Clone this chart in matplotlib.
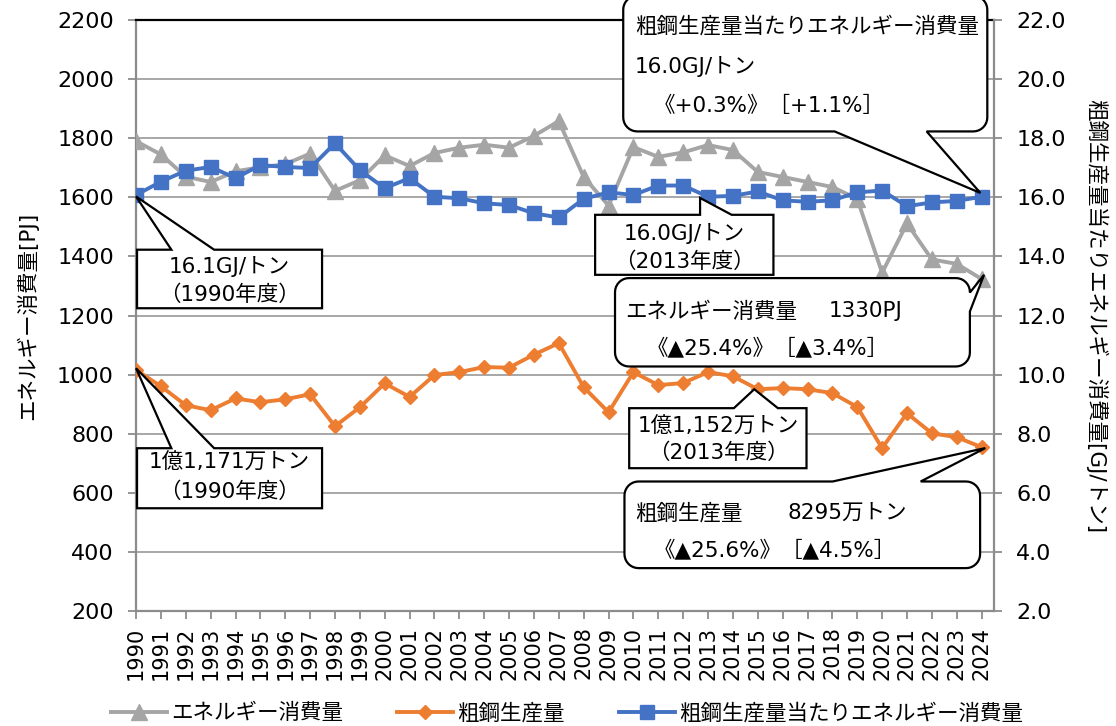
import matplotlib
matplotlib.use('Agg')
import numpy as np
import matplotlib.pyplot as plt
from matplotlib.patches import Polygon
from matplotlib.ticker import FormatStrFormatter

plt.rcParams['font.family'] = ['DejaVu Sans', 'Noto Sans CJK JP']

# データ
years = list(range(1990, 2025))
energy = [1790, 1745, 1670, 1652, 1688, 1702, 1712, 1748, 1622, 1658,
          1742, 1706, 1750, 1768, 1778, 1768, 1808, 1858, 1669, 1572,
          1770, 1737, 1752, 1777, 1760, 1686, 1669, 1652, 1635, 1595,
          1345, 1512, 1390, 1375, 1324]
steel = [1016, 961, 897, 880, 920, 907, 917, 934, 826, 890,
         971, 925, 999, 1009, 1026, 1024, 1068, 1107, 958, 873,
         1009, 965, 972, 1009, 995, 951, 955, 951, 938, 891,
         752, 870, 802, 789, 755]
intensity = [16.08, 16.53, 16.90, 17.03, 16.65, 17.09, 17.03, 16.99, 17.83, 16.92,
             16.31, 16.65, 16.02, 15.97, 15.80, 15.74, 15.46, 15.32, 15.95, 16.17,
             16.08, 16.40, 16.40, 16.02, 16.05, 16.20, 15.90, 15.85, 15.90, 16.17,
             16.23, 15.70, 15.83, 15.88, 16.02]
series_names = ['エネルギー消費量', '粗鋼生産量', '粗鋼生産量当たりエネルギー消費量']

GRAY = '#A5A5A5'
ORANGE = '#ED7D31'
BLUE = '#4472C4'
AXC = '#8C8C8C'
FS = 15.5

fig = plt.figure(figsize=(11.16, 7.26), dpi=100)
pos = [0.1219, 0.158, 0.7688, 0.8145]
ax = fig.add_axes(pos)
ax2 = ax.twinx()

l1, = ax.plot(years, energy, color=GRAY, lw=2.8, marker='^', ms=12, zorder=3, label=series_names[0])
l2, = ax.plot(years, steel, color=ORANGE, lw=2.8, marker='D', ms=7, zorder=4, label=series_names[1])
l3, = ax2.plot(years, intensity, color=BLUE, lw=2.8, marker='s', ms=9.5, zorder=3, label=series_names[2])

ax.set_xlim(1990, 2024.5)
ax.set_ylim(200, 2200)
ax2.set_ylim(2, 22)
ax.set_yticks(range(200, 2201, 200))
ax2.set_yticks(np.arange(2, 22.1, 2))
ax2.yaxis.set_major_formatter(FormatStrFormatter('%.1f'))
ax.set_xticks(years)
ax.set_xticklabels([str(y) for y in years], rotation=90, fontsize=15)

ax.grid(axis='y', color='#A0A0A0', lw=1.3)
ax.set_axisbelow(True)

ax.tick_params(axis='y', direction='out', length=6, width=1.3, color=AXC, labelsize=16, pad=10)
ax.tick_params(axis='x', direction='out', length=6, width=1.3, color=AXC, pad=5)
ax2.tick_params(axis='y', direction='out', length=6, width=1.3, color=AXC, labelsize=16, pad=10)

for s in ['left', 'bottom']:
    ax.spines[s].set_color(AXC)
    ax.spines[s].set_linewidth(1.6)
ax.spines['right'].set_visible(False)
ax.spines['top'].set_color('black')
ax.spines['top'].set_linewidth(1.6)
for s in ['left', 'bottom', 'top']:
    ax2.spines[s].set_visible(False)
ax2.spines['right'].set_color(AXC)
ax2.spines['right'].set_linewidth(1.6)

# 吹き出し用(ピクセル→データ単位)
ppx = pos[2] * 1116 / 34.5
ppy = pos[3] * 726 / 2000


def callout(x0, x1, y0, y1, side, ptr, r_px=0):
    rx = r_px / ppx
    ry = r_px / ppy
    pts = []

    def corner(cx, cy, a0, a1):
        for t in np.linspace(np.radians(a0), np.radians(a1), 9):
            pts.append((cx + rx * np.cos(t), cy + ry * np.sin(t)))

    corner(x0 + rx, y0 + ry, 180, 270)
    if side == 'bottom':
        pts.extend(ptr)
    corner(x1 - rx, y0 + ry, 270, 360)
    if side == 'right':
        pts.extend(ptr)
    corner(x1 - rx, y1 - ry, 0, 90)
    if side == 'top':
        pts.extend(ptr)
    corner(x0 + rx, y1 - ry, 90, 180)
    ax2.add_patch(Polygon(pts, closed=True, fc='white', ec='black', lw=1.6,
                          transform=ax.transData, zorder=10, clip_on=False))


def txt(x, y, s, ha='left'):
    ax2.text(x, y, s, transform=ax.transData, fontsize=FS, ha=ha, va='center',
             zorder=11, clip_on=False)


# 右上
callout(2009.59, 2024.23, 1823, 2282, 'bottom',
        [(2018.09, 1823), (2023.95, 1615), (2021.79, 1823)], 14)
txt(2010.06, 2178, '粗鋼生産量当たりエネルギー消費量')
txt(2010.06, 2043, '16.0GJ/トン')
txt(2010.8, 1908, '《+0.3%》［+1.1%］')

# 2013年度 原単位
callout(2008.46, 2015.63, 1338, 1541, 'top',
        [(2013.95, 1541), (2012.68, 1598), (2012.68, 1541)])
txt(2012.05, 1479, '16.0GJ/トン', 'center')
txt(2012.05, 1383, '（2013年度）', 'center')

# エネルギー消費量
callout(2009.26, 2023.53, 1028, 1327, 'right',
        [(2023.53, 1214), (2024.1, 1338), (2023.53, 1278)], 14)
txt(2009.66, 1214, 'エネルギー消費量')
txt(2017.84, 1214, '1330PJ')
txt(2010.55, 1090, '《▲25.4%》［▲3.4%］')

# 2013年度 粗鋼
callout(2009.83, 2016.96, 684, 887, 'top',
        [(2015.81, 887), (2014.86, 951), (2014.04, 887)])
txt(2013.4, 825, '1億1,152万トン', 'center')
txt(2013.4, 735, '（2013年度）', 'center')

# 粗鋼生産量
callout(2009.64, 2023.94, 346, 639, 'top',
        [(2021.55, 639), (2024.15, 752), (2018.01, 639)], 14)
txt(2010.06, 532, '粗鋼生産量')
txt(2016.2, 532, '8295万トン')
txt(2010.83, 407, '《▲25.6%》［▲4.5%］')

# 1990年度
callout(1990.04, 1997.48, 1225, 1423, 'top',
        [(1993.14, 1423), (1990, 1603), (1991.42, 1423)])
txt(1993.76, 1366, '16.1GJ/トン', 'center')
txt(1993.76, 1270, '（1990年度）', 'center')

callout(1990.04, 1997.48, 548.5, 751.6, 'top',
        [(1993.14, 751.6), (1990, 1022), (1991.42, 751.6)])
txt(1993.76, 701, '1億1,171万トン', 'center')
txt(1993.76, 605, '（1990年度）', 'center')

fig.text(27 / 1116, 1 - 316 / 726, 'エネルギー消費量[PJ]', rotation=90,
         ha='center', va='center', fontsize=FS)
fig.text(1096 / 1116, 1 - 316 / 726, '粗鋼生産量当たりエネルギー消費量[GJ/トン]',
         rotation=270, ha='center', va='center', fontsize=FS)

fig.legend(handles=[l1, l2, l3], loc='center', bbox_to_anchor=(0.508, 0.018),
           ncol=3, frameon=False, fontsize=FS, handlelength=2.6,
           handletextpad=0.2, columnspacing=2.5, numpoints=1)

fig.savefig('out.png', dpi=100)
